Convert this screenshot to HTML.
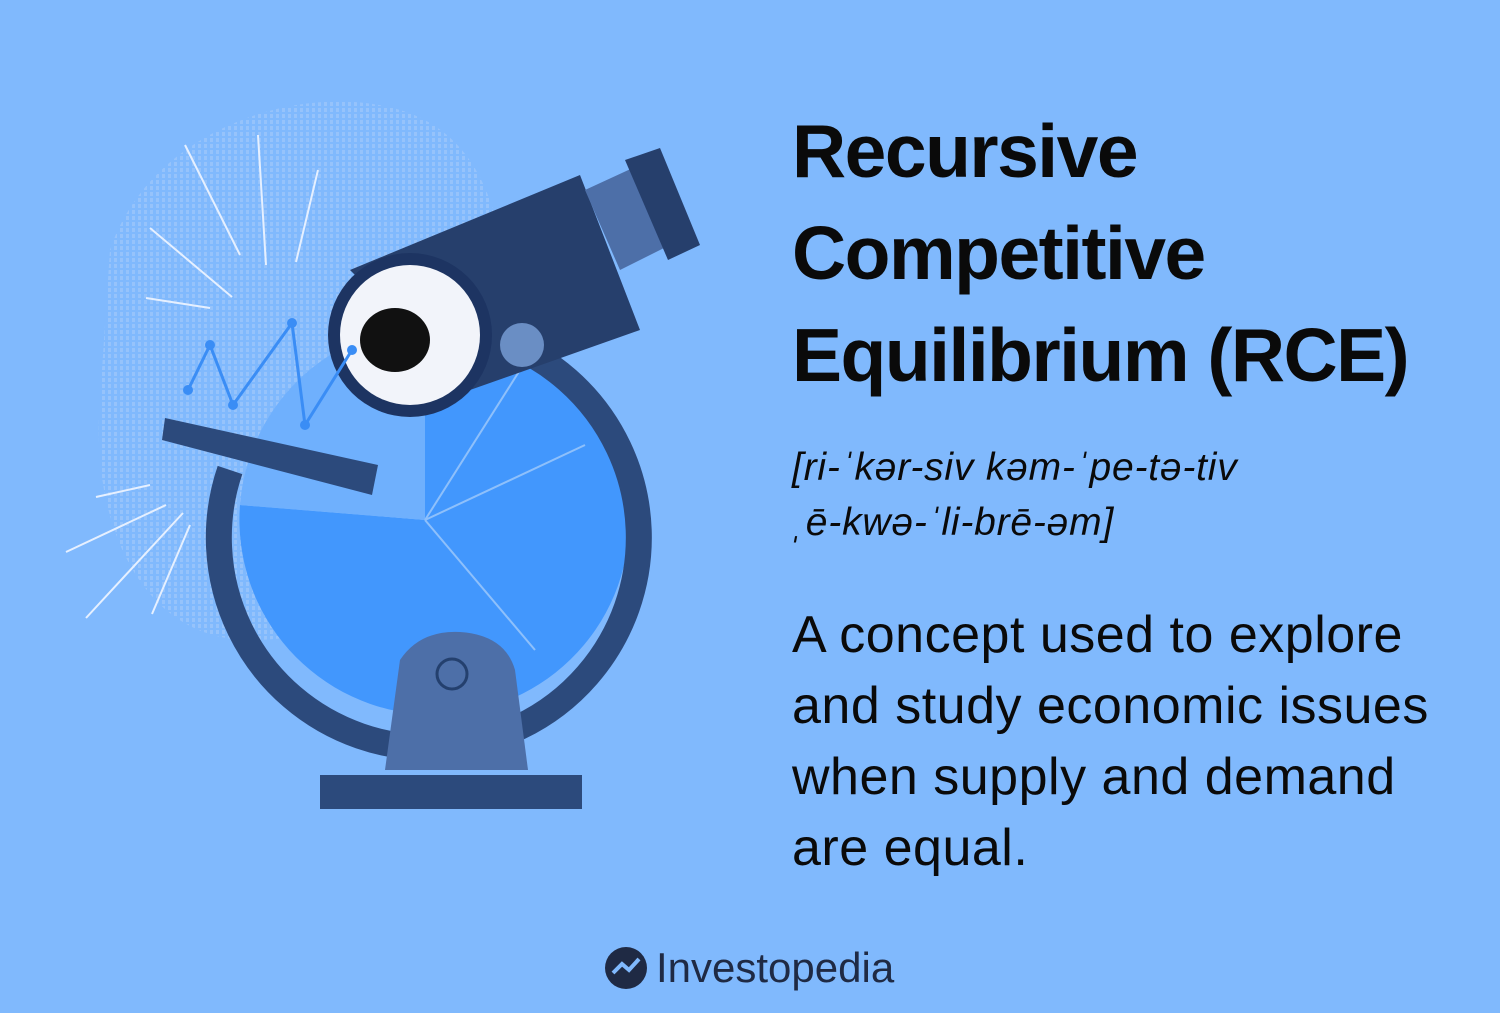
<!DOCTYPE html>
<html><head><meta charset="utf-8">
<style>
html,body{margin:0;padding:0;}
body{width:1500px;height:1013px;background:#80b9fd;position:relative;overflow:hidden;font-family:"Liberation Sans",sans-serif;color:#0a0a0a;}
.t{position:absolute;left:792px;white-space:nowrap;}
#title{top:100px;font-size:75px;font-weight:bold;line-height:102px;letter-spacing:-1.5px;}
#pron{top:440px;font-size:39px;font-style:italic;line-height:55px;letter-spacing:0.8px;}
#desc{top:600px;font-size:52px;line-height:71px;letter-spacing:0.5px;}
#logo{position:absolute;left:604px;top:944px;display:flex;align-items:center;gap:8px;font-size:42px;color:#1f2a44;}
svg{position:absolute;left:0;top:0;}
</style></head><body>
<svg id="art" width="760" height="1013">
  <defs>
    <pattern id="dots" width="6" height="6" patternUnits="userSpaceOnUse"><rect width="3" height="4" fill="#9cc6fb"/></pattern>
  </defs>
  <path d="M110,250 C150,130 300,80 400,110 C500,140 520,260 500,420 C480,560 380,640 250,640 C140,640 90,520 100,400 Z" fill="url(#dots)" opacity="0.8"/>
  <g stroke="#e6f0ff" stroke-width="2">
    <line x1="185" y1="145" x2="240" y2="255"/><line x1="258" y1="135" x2="266" y2="265"/>
    <line x1="318" y1="170" x2="296" y2="262"/><line x1="150" y1="228" x2="232" y2="297"/>
    <line x1="146" y1="298" x2="210" y2="308"/><line x1="96" y1="497" x2="150" y2="485"/>
    <line x1="66" y1="552" x2="166" y2="505"/><line x1="86" y1="618" x2="183" y2="513"/>
    <line x1="152" y1="614" x2="190" y2="525"/>
  </g>
  <path d="M425,325 A195,195 0 1 1 240,505 L425,520 Z" fill="#4297fd"/>
  <path d="M425,325 A195,195 0 0 0 240,505 L425,520 Z" fill="#6fb0fd"/>
  <g stroke="#8ec0fb" stroke-width="2"><line x1="425" y1="520" x2="520" y2="370"/><line x1="425" y1="520" x2="585" y2="445"/><line x1="425" y1="520" x2="535" y2="650"/></g>
  <path d="M500,340 A210,210 0 1 1 230,470" fill="none" stroke="#2c4a7c" stroke-width="26"/>
  <path d="M385,770 L400,660 Q420,630 460,632 Q505,635 515,670 L528,770 Z" fill="#4d6fa8"/>
  <circle cx="452" cy="674" r="15" fill="none" stroke="#24406e" stroke-width="3"/>
  <rect x="320" y="775" width="262" height="34" fill="#2c4a7c"/>
  <polygon points="165,418 378,465 372,495 162,440" fill="#2c4a7c"/>
  <polygon points="350,270 580,175 640,330 470,390" fill="#263f6c"/>
  <polygon points="585,190 650,160 680,240 620,270" fill="#4d6fa8"/>
  <polygon points="625,160 660,148 700,245 668,260" fill="#263f6c"/>
  <circle cx="522" cy="345" r="22" fill="#6a8ec4"/>
  <circle cx="410" cy="335" r="82" fill="#1d3462"/>
  <circle cx="410" cy="335" r="70" fill="#f2f4fa"/>
  <ellipse cx="395" cy="340" rx="35" ry="32" fill="#111"/>
  <g id="minichart"></g>
</svg>
<script>
const pointX=[188,210,233,292,305,352];
const pointY=[390,345,405,323,425,350];
const g=document.getElementById('minichart');
const ns='http://www.w3.org/2000/svg';
const pl=document.createElementNS(ns,'polyline');


pl.setAttribute('points',pointX.map((x,i)=>x+','+pointY[i]).join(' '));
pl.setAttribute('fill','none');pl.setAttribute('stroke','#3a8df5');pl.setAttribute('stroke-width','3');
g.appendChild(pl);
pointX.forEach((x,i)=>{const c=document.createElementNS(ns,'circle');


c.setAttribute('cx',x);c.setAttribute('cy',pointY[i]);c.setAttribute('r',5);c.setAttribute('fill','#3a8df5');g.appendChild(c);});
</script>
<div id="title" class="t">Recursive<br>Competitive<br>Equilibrium (RCE)</div>
<div id="pron" class="t">[ri-ˈkər-siv kəm-ˈpe-tə-tiv<br>ˌē-kwə-ˈli-brē-əm]</div>
<div id="desc" class="t">A concept used to explore<br>and study economic issues<br>when supply and demand<br>are equal.</div>
<div id="logo"><svg style="position:static" width="44" height="44"><circle cx="22" cy="22" r="21" fill="#1f2a44"/><path d="M9,27 L18,18 L25,24 L35,13" stroke="#80b9fd" stroke-width="4" fill="none"/></svg><span>Investopedia</span></div>
</body></html>
